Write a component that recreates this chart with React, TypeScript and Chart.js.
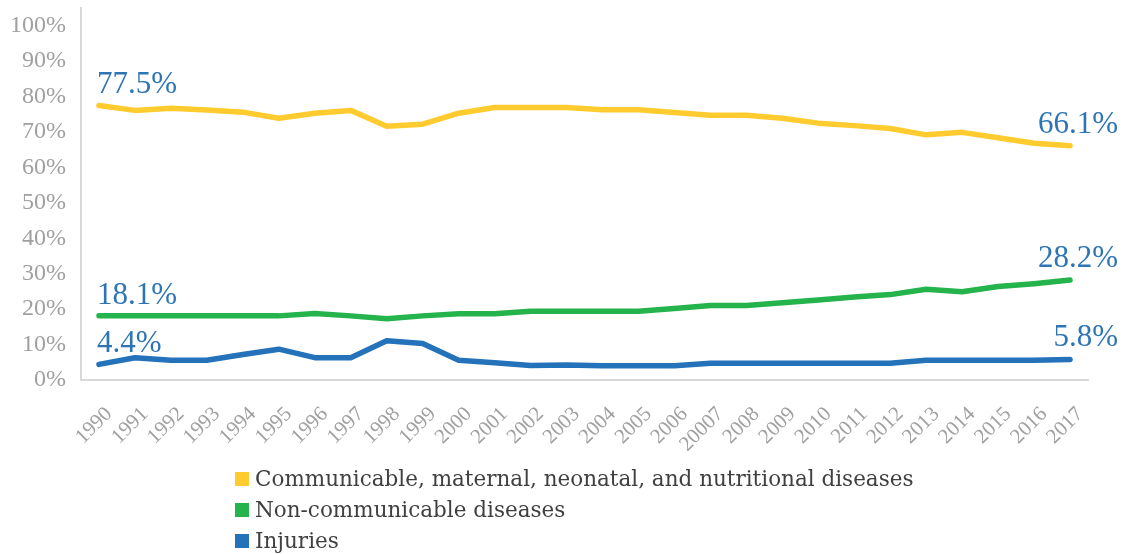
import React, { useEffect, useRef } from "react";
import { Chart, registerables } from "chart.js";

Chart.register(...registerables);

const years = [
  "1990", "1991", "1992", "1993", "1994", "1995", "1996", "1997", "1998", "1999",
  "2000", "2001", "2002", "2003", "2004", "2005", "2006", "20007", "2008", "2009",
  "2010", "2011", "2012", "2013", "2014", "2015", "2016", "2017",
];

const communicable = [
  77.5, 76.1, 76.7, 76.2, 75.6, 73.9, 75.3, 76.1, 71.6, 72.2,
  75.3, 76.9, 76.9, 76.9, 76.3, 76.3, 75.5, 74.7, 74.7, 73.9,
  72.5, 71.8, 71.0, 69.2, 69.9, 68.4, 66.8, 66.1,
];

const nonCommunicable = [
  18.1, 18.1, 18.1, 18.1, 18.1, 18.1, 18.8, 18.1, 17.3, 18.1,
  18.7, 18.7, 19.4, 19.4, 19.4, 19.4, 20.2, 21.0, 21.0, 21.8,
  22.6, 23.4, 24.1, 25.6, 24.9, 26.4, 27.2, 28.2,
];

const injuries = [
  4.4, 6.3, 5.6, 5.6, 7.2, 8.7, 6.3, 6.3, 11.1, 10.3,
  5.6, 4.9, 4.1, 4.2, 4.0, 4.0, 4.0, 4.7, 4.7, 4.7,
  4.7, 4.7, 4.7, 5.6, 5.6, 5.6, 5.6, 5.8,
];

const seriesNames = [
  "Communicable, maternal, neonatal, and nutritional diseases",
  "Non-communicable diseases",
  "Injuries",
];
const seriesColors = ["#FFCB2F", "#25B34B", "#2372BA"];

const yTickValues = [0, 10, 20, 30, 40, 50, 60, 70, 80, 90, 100];

const NUM_FONT = "'Liberation Serif', serif";
const TEXT_FONT = "'DejaVu Serif', serif";
const LABEL_BLUE = "#2E75B6";

const endLabels = {
  id: "endLabels",
  afterDatasetsDraw(chart: any) {
    const ctx = chart.ctx;
    ctx.save();
    ctx.font = `31px ${NUM_FONT}`;
    ctx.fillStyle = LABEL_BLUE;
    ctx.textBaseline = "alphabetic";
    chart.data.datasets.forEach((ds: any, i: number) => {
      const meta = chart.getDatasetMeta(i);
      const first = meta.data[0];
      const last = meta.data[meta.data.length - 1];
      const v0 = ds.data[0];
      const v1 = ds.data[ds.data.length - 1];
      ctx.textAlign = "left";
      ctx.fillText(v0.toFixed(1) + "%", first.x - 2, first.y - 12);
      ctx.textAlign = "right";
      ctx.fillText(v1.toFixed(1) + "%", last.x + 48, last.y - 13);
    });
    ctx.restore();
  },
};

export default function App() {
  const ref = useRef<HTMLCanvasElement | null>(null);

  useEffect(() => {
    if (!ref.current) return;
    const values = [communicable, nonCommunicable, injuries];
    const chart = new Chart(ref.current, {
      type: "line",
      data: {
        labels: years,
        datasets: values.map((d, i) => ({
          label: seriesNames[i],
          data: d,
          borderColor: seriesColors[i],
          backgroundColor: seriesColors[i],
          borderWidth: 5.5,
          pointRadius: 0,
          tension: 0,
          borderCapStyle: "round",
          borderJoinStyle: "round",
          fill: false,
        })),
      },
      options: {
        animation: false,
        responsive: false,
        maintainAspectRatio: false,
        events: [],
        layout: { padding: { top: 8, right: 36, bottom: 100, left: 0 } },
        plugins: {
          legend: { display: false },
          tooltip: { enabled: false },
        },
        scales: {
          x: {
            type: "category",
            offset: true,
            grid: { display: false, drawTicks: false },
            border: { display: true, color: "#D9D9D9", width: 2 },
            ticks: {
              autoSkip: false,
              maxRotation: 45,
              minRotation: 45,
              padding: 22,
              labelOffset: 10,
              color: "#A0A0A0",
              font: { family: NUM_FONT, size: 21 },
            },
            afterFit: (s: any) => {
              s.height = 74;
              s.paddingLeft = 0;
              s.paddingRight = 0;
            },
          },
          y: {
            min: 0,
            max: 105,
            grid: { display: false, drawTicks: false },
            border: { display: true, color: "#D9D9D9", width: 2 },
            afterBuildTicks: (s: any) => {
              s.ticks = yTickValues.map((v) => ({ value: v }));
            },
            ticks: {
              padding: 15,
              color: "#A0A0A0",
              font: { family: NUM_FONT, size: 24 },
              callback: (v: any) => v + "%",
            },
            afterFit: (s: any) => {
              s.width = 81;
              s.paddingTop = 0;
              s.paddingBottom = 0;
            },
          },
        },
      },
      plugins: [endLabels],
    } as any);
    return () => chart.destroy();
  }, []);

  return (
    <div
      style={{
        position: "fixed",
        left: 0,
        top: 0,
        width: 1124,
        height: 554,
        background: "#fff",
      }}
    >
      <canvas ref={ref} width={1124} height={554} style={{ display: "block" }} />
      <div
        style={{
          position: "absolute",
          left: 235,
          top: 463,
          fontFamily: TEXT_FONT,
          fontSize: 21.5,
          color: "#404040",
        }}
      >
        {seriesNames.map((n, i) => (
          <div
            key={n}
            style={{ display: "flex", alignItems: "center", height: 31, whiteSpace: "nowrap" }}
          >
            <span
              style={{
                display: "inline-block",
                width: 14,
                height: 14,
                background: seriesColors[i],
                marginRight: 6,
              }}
            />
            <span>{n}</span>
          </div>
        ))}
      </div>
    </div>
  );
}
